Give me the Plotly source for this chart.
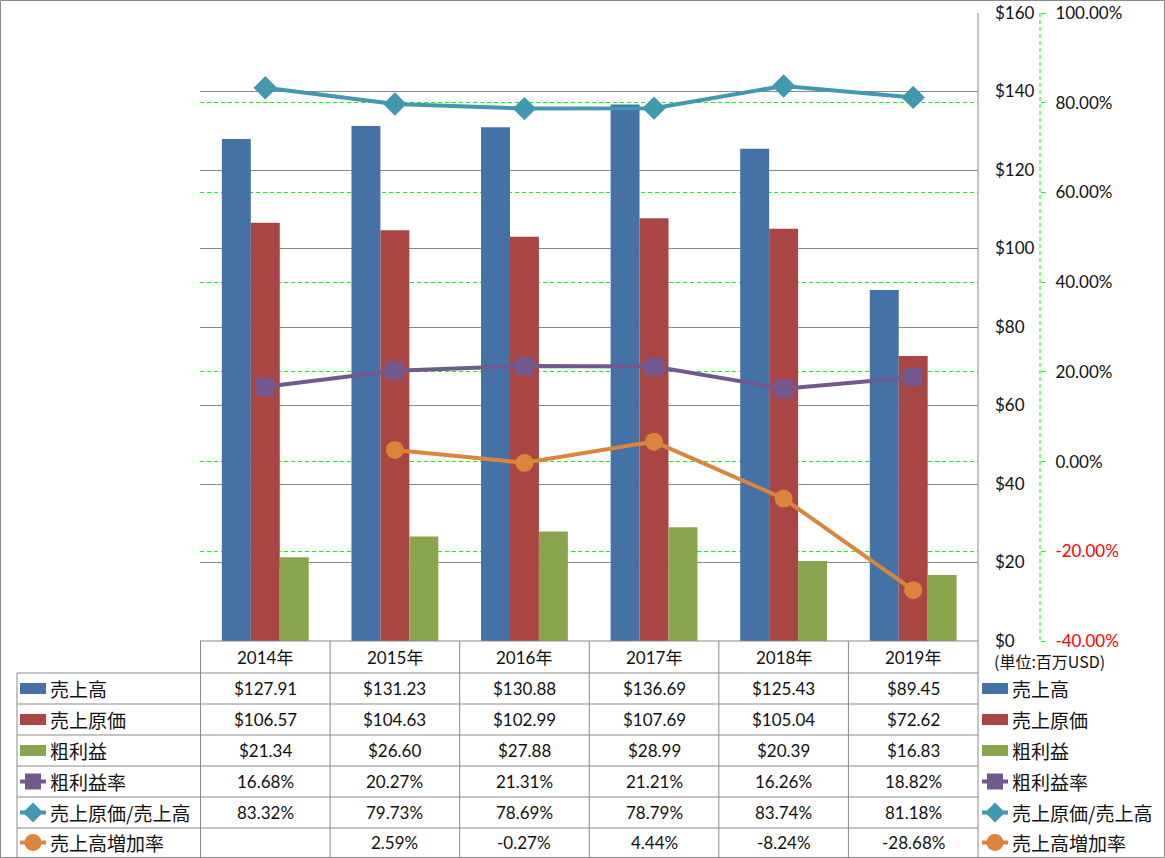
import plotly.graph_objects as go

W, H = 1165, 858

# ---------------- data ----------------
years = ["2014年", "2015年", "2016年", "2017年", "2018年", "2019年"]
sales = [127.91, 131.23, 130.88, 136.69, 125.43, 89.45]          # 売上高
cogs = [106.57, 104.63, 102.99, 107.69, 105.04, 72.62]           # 売上原価
gross = [21.34, 26.60, 27.88, 28.99, 20.39, 16.83]               # 粗利益
gm_rate = [16.68, 20.27, 21.31, 21.21, 16.26, 18.82]             # 粗利益率 (%)
cogs_ratio = [83.32, 79.73, 78.69, 78.79, 83.74, 81.18]          # 売上原価/売上高 (%)
growth = [None, 2.59, -0.27, 4.44, -8.24, -28.68]                # 売上高増加率 (%)

usd_ticks = [0, 20, 40, 60, 80, 100, 120, 140, 160]
pct_ticks = [-40, -20, 0, 20, 40, 60, 80, 100]

bar_series = [
    ("売上高", sales, "#4472A7"),
    ("売上原価", cogs, "#A94643"),
    ("粗利益", gross, "#89A54E"),
]
line_series = [
    ("粗利益率", gm_rate, "#71588F", "square", 18),
    ("売上原価/売上高", cogs_ratio, "#4198AF", "diamond", 18),
    ("売上高増加率", growth, "#DB843D", "circle", 18),
]

# ---------------- layout geometry (pixels) ----------------
PL, PR, PT, PB = 200, 978, 13, 641
SEC_X = 1040
ROW_EDGES = [673, 704, 735, 766, 797, 828, 857]
GRAY = "#898989"
NUM_FONT = "Lato, 'Noto Sans CJK JP', sans-serif"
JP_FONT = "'Noto Sans CJK JP', sans-serif"


def X(px):
    return px / W


def Y(py):
    return 1 - py / H


fig = go.Figure()

for name, vals, col in bar_series:
    fig.add_trace(go.Bar(x=years, y=vals, name=name, marker=dict(color=col, line=dict(width=0)),
                         xaxis="x", yaxis="y", showlegend=False))

for name, vals, col, sym, size in line_series:
    fig.add_trace(go.Scatter(x=years, y=vals, name=name, mode="lines+markers",
                             line=dict(color=col, width=4),
                             marker=dict(symbol=sym, size=size, color=col, line=dict(width=0)),
                             xaxis="x", yaxis="y2", showlegend=False))

shapes = []
annotations = []


def hline(y, x0, x1, color=GRAY, width=1, dash="solid"):
    shapes.append(dict(type="line", xref="paper", yref="paper", x0=X(x0), x1=X(x1), y0=Y(y), y1=Y(y),
                       line=dict(color=color, width=width, dash=dash), layer="above"))


def vline(x, y0, y1, color=GRAY, width=1, dash="solid", xref="paper"):
    xx = X(x) if xref == "paper" else x
    shapes.append(dict(type="line", xref=xref, yref="paper", x0=xx, x1=xx, y0=Y(y0), y1=Y(y1),
                       line=dict(color=color, width=width, dash=dash), layer="above"))


# outer border
shapes.append(dict(type="rect", xref="paper", yref="paper", x0=X(0.5), x1=X(1164.5), y0=Y(0.5), y1=Y(857.5),
                   line=dict(color=GRAY, width=1), fillcolor="rgba(0,0,0,0)", layer="above"))

# secondary axis dashed line
vline(SEC_X, PT, PB, color="#00FF00", width=1, dash="4px,3px")

# table lines
hline(PB, PL, PR)
for e in ROW_EDGES[:-1]:
    hline(e, 17, PR)
vline(PR, PT, 857)
vline(17, ROW_EDGES[0], 857)
for i in range(len(years)):
    vline(i - 0.5, PB, 857, xref="x")

# header years
hc = (PB + ROW_EDGES[0]) / 2
for yr in years:
    annotations.append(dict(x=yr, xref="x", y=Y(hc), yref="paper", text=yr, showarrow=False,
                            xanchor="center", yanchor="middle", font=dict(family=NUM_FONT, size=17, color="#111")))

# rows
rows = []
for name, vals, col in bar_series:
    rows.append((name, ["$%.2f" % v for v in vals], col, "bar", None))
for name, vals, col, sym, size in line_series:
    rows.append((name, ["" if v is None else "%.2f%%" % v for v in vals], col, "line", sym))


def legend_key(x0, yc, col, kind, sym):
    x1 = x0 + 26
    if kind == "bar":
        shapes.append(dict(type="rect", xref="paper", yref="paper", x0=X(x0), x1=X(x1), y0=Y(yc + 5.5),
                           y1=Y(yc - 5.5), line=dict(width=0), fillcolor=col, layer="above"))
    else:
        hline(yc, x0, x1, color=col, width=4)
        cx = (x0 + x1) / 2
        if sym == "square":
            shapes.append(dict(type="rect", xref="paper", yref="paper", x0=X(cx - 8), x1=X(cx + 8),
                               y0=Y(yc + 8), y1=Y(yc - 8), line=dict(width=0), fillcolor=col, layer="above"))
        elif sym == "circle":
            shapes.append(dict(type="circle", xref="paper", yref="paper", x0=X(cx - 8.5), x1=X(cx + 8.5),
                               y0=Y(yc + 8.5), y1=Y(yc - 8.5), line=dict(width=0), fillcolor=col, layer="above"))
        else:
            path = "M %f,%f L %f,%f L %f,%f L %f,%f Z" % (
                X(cx - 10), Y(yc), X(cx), Y(yc - 10), X(cx + 10), Y(yc), X(cx), Y(yc + 10))
            shapes.append(dict(type="path", xref="paper", yref="paper", path=path, line=dict(width=0),
                               fillcolor=col, layer="above"))


for r, (name, texts, col, kind, sym) in enumerate(rows):
    yc = (ROW_EDGES[r] + ROW_EDGES[r + 1]) / 2
    legend_key(20, yc, col, kind, sym)
    annotations.append(dict(x=X(48), xref="paper", y=Y(yc), yref="paper", text=name, showarrow=False,
                            xanchor="left", yanchor="middle", font=dict(family=JP_FONT, size=19, color="#111")))
    legend_key(982, yc, col, kind, sym)
    annotations.append(dict(x=X(1010), xref="paper", y=Y(yc), yref="paper", text=name, showarrow=False,
                            xanchor="left", yanchor="middle", font=dict(family=JP_FONT, size=19, color="#111")))
    for yr, t in zip(years, texts):
        if t:
            annotations.append(dict(x=yr, xref="x", y=Y(yc), yref="paper", text=t, showarrow=False,
                                    xanchor="center", yanchor="middle",
                                    font=dict(family=NUM_FONT, size=17, color="#111")))

annotations.append(dict(x=X(992), xref="paper", y=Y(661), yref="paper", text="(単位:百万USD)", showarrow=False,
                        xanchor="left", yanchor="middle", font=dict(family=JP_FONT, size=16, color="#111")))

usd_text = ["$%d" % v for v in usd_ticks]
pct_text = [("<span style='color:#FF0000'>%.2f%%</span>" % v) if v < 0 else ("%.2f%%" % v) for v in pct_ticks]

fig.update_layout(
    template="none",
    width=W, height=H, autosize=False, margin=dict(l=0, r=0, t=0, b=0, pad=0),
    paper_bgcolor="white", plot_bgcolor="white",
    barmode="group", bargap=0.33, bargroupgap=0,
    xaxis=dict(domain=[X(PL), X(PR)], type="category", showticklabels=False, showgrid=False,
               zeroline=False, showline=False, ticks="", automargin=False),
    yaxis=dict(domain=[Y(PB), Y(PT)], range=[0, 160], tickmode="array", tickvals=usd_ticks, ticktext=usd_text,
               side="right", showgrid=True, gridcolor=GRAY, gridwidth=1, zeroline=False, showline=False,
               ticks="", ticklabelstandoff=16, automargin=False,
               tickfont=dict(family=NUM_FONT, size=17, color="#111")),
    yaxis2=dict(overlaying="y", anchor="free", position=X(SEC_X), side="right", range=[-40, 100],
                tickmode="array", tickvals=pct_ticks, ticktext=pct_text, showgrid=True, gridcolor="#00FF00",
                griddash="4px,3px", gridwidth=1, zeroline=False, showline=False, ticks="outside", ticklen=4,
                tickcolor="#00FF00", ticklabelstandoff=7, automargin=False,
                tickfont=dict(family=NUM_FONT, size=17, color="#111")),
    shapes=shapes, annotations=annotations,
)

post = """
var s = document.createElement('style');
s.textContent = 'html,body{margin:0;padding:0;width:1165px;height:858px;overflow:hidden;background:#fff;}';
document.head.appendChild(s);
var d = document.getElementById('{plot_id}');
d.style.position = 'fixed'; d.style.left = '0px'; d.style.top = '0px';
"""

fig.write_html("out.html", config={"displayModeBar": False, "responsive": False},
               default_width="1165px", default_height="858px", post_script=post)
